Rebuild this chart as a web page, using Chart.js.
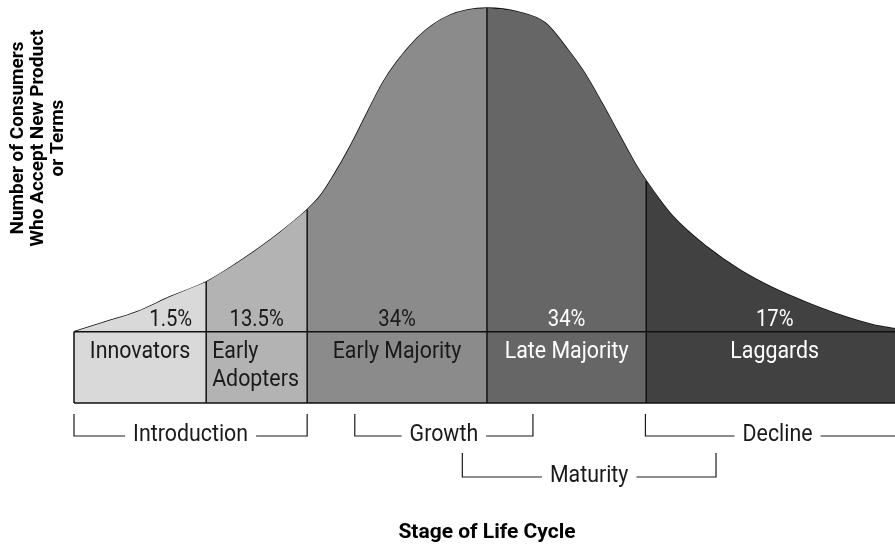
<!DOCTYPE html>
<html>
<head>
<meta charset="utf-8">
<script src="https://cdn.jsdelivr.net/npm/chart.js@4.4.1/dist/chart.umd.min.js"></script>
<style>
  html, body { margin: 0; padding: 0; background: #fff; }
</style>
</head>
<body>
<canvas id="chart" width="895" height="548"></canvas>
<script>
// Diffusion of innovation curve, x = position in life cycle (0..100), y = consumers (peak = 100)
const groupNames = ["Innovators", "Early\nAdopters", "Early Majority", "Late Majority", "Laggards"];
const groupShares = ["1.5%", "13.5%", "34%", "34%", "17%"];

const innovatorsX = [0, 3.5, 7.7, 11.7, 16.1];
const innovatorsY = [0, 2.8, 6.2, 10.8, 15.4];
const earlyAdoptersX = [16.1, 19.9, 23.9, 28.4];
const earlyAdoptersY = [15.4, 21.3, 28.4, 37.7];
const earlyMajorityX = [28.4, 30.0, 31.5, 33.6, 35.7, 37.6, 39.3, 41.8, 43.7, 45.8, 47.9, 50.3];
const earlyMajorityY = [37.7, 42.0, 47.8, 57.1, 67.6, 76.9, 83.3, 90.7, 94.8, 97.8, 99.4, 100];
const lateMajorityX = [50.3, 54.1, 57.4, 60.2, 62.2, 64.3, 66.3, 68.3, 69.7];
const lateMajorityY = [100, 98.8, 95.4, 87.0, 79.9, 70.7, 61.4, 52.2, 46.6];
const laggardsX = [69.7, 73.0, 77.1, 81.1, 85.1, 89.3, 93.3, 97.3, 100];
const laggardsY = [46.6, 35.5, 26.2, 19.1, 13.6, 9.0, 5.2, 2.2, 0.9];

// stages of the product life cycle (brackets under the curve)
const stageNames = ["Introduction", "Growth", "Maturity", "Decline"];
const stageFrom = [0, 34.2, 47.3, 69.6];
const stageTo = [28.4, 55.9, 78.2, 101.8];
const stageRow = [0, 0, 1, 0];

const bandBottom = -22;
const bandEnd = 101;

const fills = ["#d9d9d9", "#b3b3b3", "#8b8b8b", "#666666", "#414141"];
const textColors = ["#1a1a1a", "#1a1a1a", "#1a1a1a", "#ffffff", "#ffffff"];

const segX = [innovatorsX, earlyAdoptersX, earlyMajorityX, lateMajorityX, laggardsX];
const segY = [innovatorsY, earlyAdoptersY, earlyMajorityY, lateMajorityY, laggardsY];

// filled columns, one per adopter group
const datasets = segX.map((xs, i) => ({
  label: groupNames[i],
  data: xs.map((x, j) => ({ x: x, y: segY[i][j] })),
  borderWidth: 0,
  borderColor: fills[i],
  backgroundColor: fills[i],
  fill: { value: bandBottom },
  pointRadius: 0,
  cubicInterpolationMode: "monotone",
  clip: false
}));

// the whole curve as one outline so it stays smooth across the dividers
const outline = [];
segX.forEach((xs, i) => xs.forEach((x, j) => {
  if (i > 0 && j === 0) return;
  outline.push({ x: x, y: segY[i][j] });
}));
datasets.push({
  label: "curve",
  data: outline,
  borderColor: "#111",
  borderWidth: 1.5,
  fill: false,
  pointRadius: 0,
  cubicInterpolationMode: "monotone",
  clip: false
});

const FONT = "Roboto, 'Liberation Sans', sans-serif";
const LABEL_FONT = "24px " + FONT;
const SHARE_FONT = "23px " + FONT;
const SX = 0.89;

function text(ctx, str, x, y, opts) {
  ctx.save();
  ctx.translate(x, y);
  if (opts.rot) ctx.rotate(opts.rot);
  ctx.scale(opts.sx || SX, 1);
  ctx.font = opts.font || LABEL_FONT;
  ctx.fillStyle = opts.color || "#1a1a1a";
  ctx.textAlign = opts.align || "center";
  ctx.textBaseline = "middle";
  ctx.fillText(str, 0, 0);
  ctx.restore();
}

function textWidth(ctx, str, font, sx) {
  ctx.save();
  ctx.font = font;
  const w = ctx.measureText(str).width * sx;
  ctx.restore();
  return w;
}

const overlay = {
  id: "overlay",
  afterDatasetsDraw(chart) {
    const ctx = chart.ctx;
    const xs = chart.scales.x, ys = chart.scales.y;
    const area = chart.chartArea;
    const y0 = ys.getPixelForValue(0);
    const yb = ys.getPixelForValue(bandBottom);

    ctx.save();
    ctx.strokeStyle = "#111";
    ctx.lineWidth = 1.5;
    ctx.beginPath();
    // top and bottom of the label band
    ctx.moveTo(area.left, y0); ctx.lineTo(chart.width, y0);
    ctx.moveTo(area.left, yb); ctx.lineTo(chart.width, yb);
    ctx.moveTo(area.left, y0); ctx.lineTo(area.left, yb);
    // dividers between the groups
    for (let i = 0; i < segX.length - 1; i++) {
      const pts = chart.getDatasetMeta(i).data;
      const p = pts[pts.length - 1];
      ctx.moveTo(p.x, p.y); ctx.lineTo(p.x, yb);
    }
    ctx.stroke();
    ctx.restore();

    // group labels and shares
    for (let i = 0; i < groupNames.length; i++) {
      const from = segX[i][0];
      const to = i === groupNames.length - 1 ? bandEnd : segX[i][segX[i].length - 1];
      const cx = xs.getPixelForValue((from + to) / 2);
      if (i === 0) {
        text(ctx, groupShares[i], xs.getPixelForValue(to) - 14, 320, { font: SHARE_FONT, align: "right", color: textColors[i], sx: 0.88 });
      } else {
        text(ctx, groupShares[i], cx, 320, { font: SHARE_FONT, color: textColors[i], sx: 0.88 });
      }
      const lines = groupNames[i].split("\n");
      if (lines.length > 1) {
        const lx = xs.getPixelForValue(from) + 6;
        lines.forEach((ln, k) => text(ctx, ln, lx, 352 + k * 28, { align: "left", color: textColors[i] }));
      } else {
        text(ctx, lines[0], cx, 352, { color: textColors[i] });
      }
    }

    // stage brackets
    ctx.save();
    ctx.strokeStyle = "#1a1a1a";
    ctx.lineWidth = 1.2;
    for (let i = 0; i < stageNames.length; i++) {
      const top = stageRow[i] === 0 ? 414 : 453;
      const yl = stageRow[i] === 0 ? 436 : 477;
      const x1 = xs.getPixelForValue(stageFrom[i]);
      const x2 = xs.getPixelForValue(stageTo[i]);
      const cx = (x1 + x2) / 2;
      const half = textWidth(ctx, stageNames[i], LABEL_FONT, SX) / 2 + 8;
      ctx.beginPath();
      ctx.moveTo(x1, top); ctx.lineTo(x1, yl); ctx.lineTo(cx - half, yl);
      ctx.moveTo(cx + half, yl); ctx.lineTo(x2, yl); ctx.lineTo(x2, top);
      ctx.stroke();
      text(ctx, stageNames[i], cx, yl - 1, {});
    }
    ctx.restore();

    // axis titles
    text(ctx, "Stage of Life Cycle", 487, 533, { font: "bold 21px " + FONT, color: "#000", sx: 1 });
    const yTitle = ["Number of Consumers", "Who Accept New Product", "or Terms"];
    yTitle.forEach((ln, k) => text(ctx, ln, 18 + k * 20, 138, { font: "bold 19px " + FONT, color: "#000", sx: 1, rot: -Math.PI / 2 }));
  }
};

new Chart(document.getElementById("chart"), {
  type: "line",
  data: { datasets: datasets },
  options: {
    responsive: false,
    animation: false,
    devicePixelRatio: 1,
    layout: { padding: { left: 74, right: 0, top: 8, bottom: 145 } },
    plugins: { legend: { display: false }, tooltip: { enabled: false } },
    scales: {
      x: { type: "linear", min: 0, max: 100, display: false },
      y: { min: bandBottom, max: 100, display: false }
    }
  },
  plugins: [overlay]
});
</script>
</body>
</html>
